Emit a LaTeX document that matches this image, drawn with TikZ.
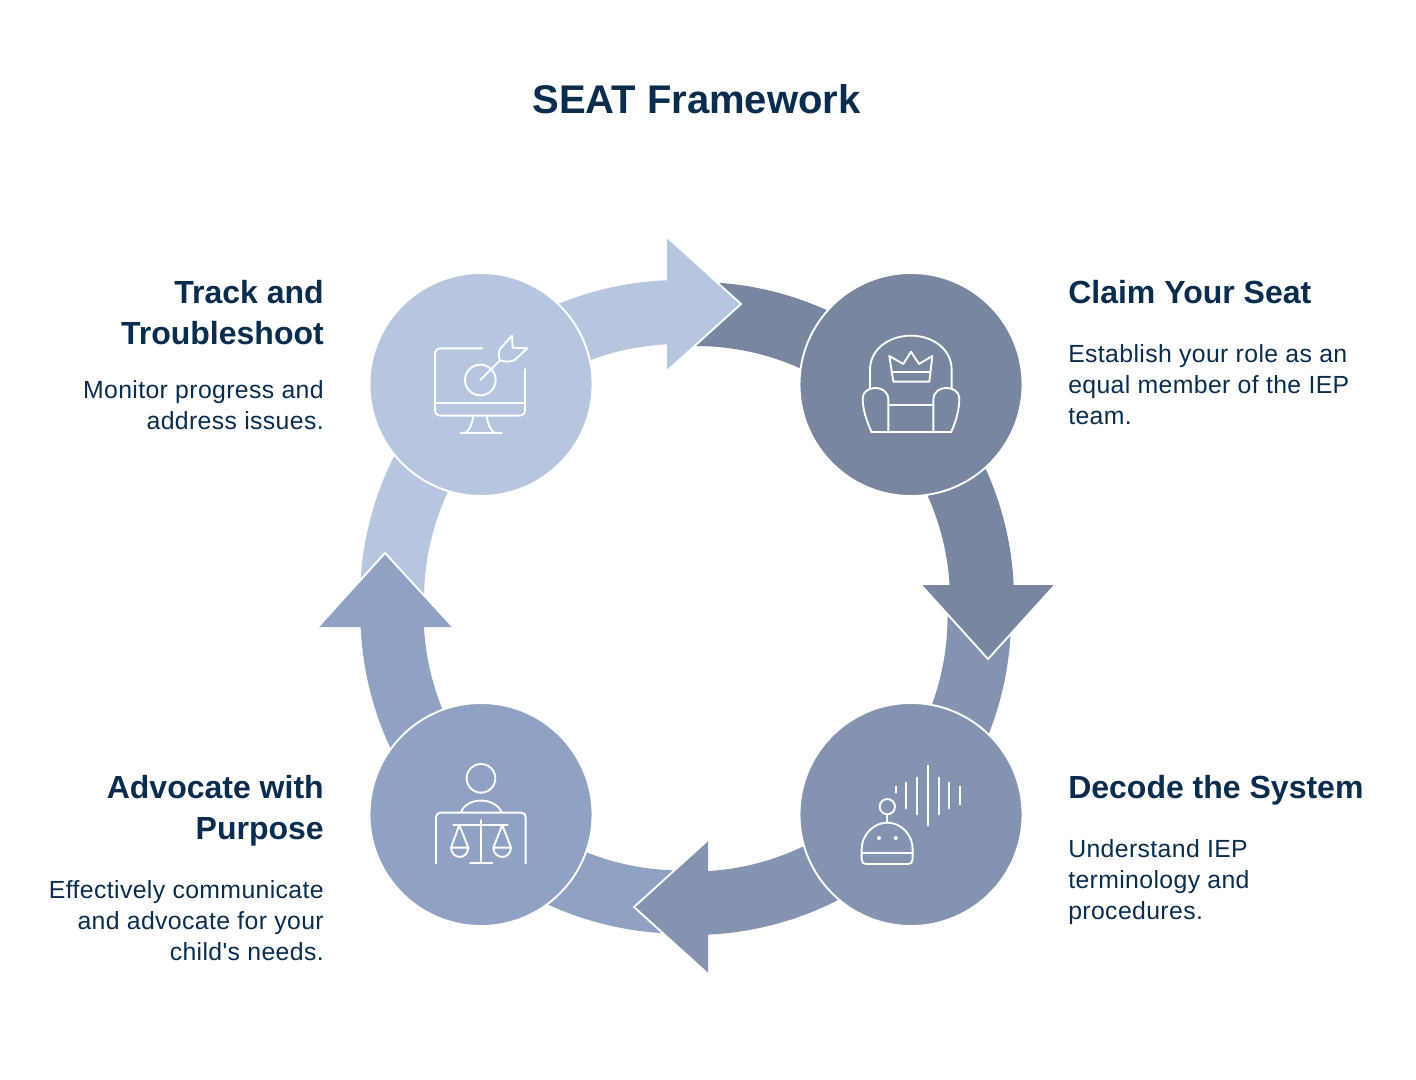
\documentclass[tikz,border=0pt]{standalone}
\usepackage{fontspec}
\setmainfont{Liberation Sans}
\newfontfamily\bodyfont[LetterSpace=1.5]{Liberation Sans}
\definecolor{ink}{HTML}{0A2C4D}
\definecolor{ctrack}{HTML}{B7C6DF}
\definecolor{cclaim}{HTML}{78869F}
\definecolor{cdecode}{HTML}{8494B0}
\definecolor{cadv}{HTML}{90A2C3}
\tikzset{
  hub/.style={circle,draw=white,line width=1.4pt,minimum size=167.25pt,inner sep=0pt,outer sep=0pt},
  rim/.style={draw=white,line width=1.4pt,line join=miter},
  icon/.style={draw=white,line width=1.4pt,line cap=round,line join=round},
  titletext/.style={font=\fontsize{30}{36}\selectfont\bfseries,text=ink,inner sep=0pt},
  headl/.style={font=\fontsize{24}{30.75}\selectfont\bfseries,text=ink,inner sep=0pt,align=left,anchor=north west},
  headr/.style={font=\fontsize{24}{30.75}\selectfont\bfseries,text=ink,inner sep=0pt,align=right,anchor=north east},
  bodyl/.style={font=\bodyfont\fontsize{18.6}{23}\selectfont,text=ink,inner sep=0pt,align=left,anchor=north west},
  bodyr/.style={font=\bodyfont\fontsize{18.6}{23}\selectfont,text=ink,inner sep=0pt,align=right,anchor=north east},
}
\newcommand{\band}[6]{% colour, cx, cy, Rout, Rin, start; end in \bandend
  \fill[#1] ({#2+#4*cos(#6)},{#3+#4*sin(#6)}) arc[start angle=#6,end angle=\bandend,radius=#4]
     -- ({#2+#5*cos(\bandend)},{#3+#5*sin(\bandend)}) arc[start angle=\bandend,end angle=#6,radius=#5] -- cycle;}
\begin{document}
\begin{tikzpicture}[x=0.75pt,y=-0.75pt]
\useasboundingbox (0,0) rectangle (1416,1080);
\fill[white] (0,0) rectangle (1416,1080);
\node[titletext] (title) at (696.5,99) {SEAT Framework};
% bands
\def\bandend{-1}\band{cclaim}{696}{600}{318}{254}{-92}
\def\bandend{-90}\band{ctrack}{680}{600}{320}{256}{-180}
\def\bandend{90}\band{cdecode}{693}{617}{318}{254.5}{-2}
\def\bandend{180}\band{cadv}{682}{612}{321.7}{258.5}{90}
% hubs
\node[hub,fill=ctrack] (track) at (481,384.5) {};
\node[hub,fill=cclaim] (claim) at (911,384.5) {};
\node[hub,fill=cdecode] (decode) at (911,814.5) {};
\node[hub,fill=cadv] (advocate) at (481,814.5) {};
% heads
\fill[ctrack] (667,237) -- (741,304) -- (667,371) -- cycle;
\draw[rim] (667,237) -- (741,304) -- (667,371);
\fill[cclaim] (921,585) -- (988,659) -- (1055,585) -- cycle;
\draw[rim] (921,585) -- (988,659) -- (1055,585);
\fill[cdecode] (708,840) -- (634,907) -- (708,974) -- cycle;
\draw[rim] (708,840) -- (634,907) -- (708,974);
\fill[cadv] (318,627) -- (385,553) -- (453,627) -- cycle;
\draw[rim] (318,627) -- (385,553) -- (453,627);
% throne
\begin{scope}[shift={(850,320)},scale=1/3]
\draw[icon] (60,205) -- (60,150) .. controls (60,85) and (120,47) .. (183,47) .. controls (245,47) and (305,85) .. (305,150) -- (305,205);
\draw[icon] (118,108) -- (160,132) -- (183,95) -- (207,132) -- (247,108) -- (238,185) -- (130,185) -- cycle;
\draw[icon] (125,157) -- (241,157);
\draw[icon] (65,337) .. controls (48,300) and (38,265) .. (38,235) .. controls (38,195) and (115,190) .. (115,240) -- (115,337);
\draw[icon] (303,337) .. controls (320,300) and (328,265) .. (328,235) .. controls (328,195) and (250,190) .. (250,240) -- (250,337);
\draw[icon] (65,337) -- (303,337);
\draw[icon] (116,255) -- (250,255);
\end{scope}
% target monitor
\begin{scope}[shift={(420,325)},scale=1/3]
\draw[icon] (187,70) -- (62,70) .. controls (52,70) and (45,77) .. (45,87) -- (45,255) .. controls (45,265) and (52,272) .. (62,272) -- (298,272) .. controls (308,272) and (315,265) .. (315,255) -- (315,132);
\draw[icon] (45,235) -- (315,235);
\draw[icon] (160,272) .. controls (157,295) and (150,315) .. (135,325);
\draw[icon] (200,272) .. controls (203,295) and (210,315) .. (225,325);
\draw[icon] (122,325) -- (245,325);
\draw[icon] (181,165) circle[radius=46];
\draw[icon] (181,165) -- (240,106);
\draw[icon] (240,106) .. controls (234,95) and (236,80) .. (240,72) -- (276,32) -- (278,68) -- (322,70) -- (284,105) .. controls (275,110) and (255,112) .. (240,106);
\end{scope}
% robot
\begin{scope}[shift={(850,755)},scale=1/3]
\draw[icon] (112,155) circle[radius=23];
\draw[icon] (112,178) -- (112,203);
\draw[icon] (35,283) .. controls (35,240) and (70,203) .. (112,203) .. controls (154,203) and (188,240) .. (188,283) -- (188,313) .. controls (188,322) and (182,327) .. (175,327) -- (48,327) .. controls (40,327) and (35,322) .. (35,313) -- cycle;
\draw[icon] (35,293) -- (188,293);
\fill[white] (87,249) circle[radius=6];
\fill[white] (137,249) circle[radius=6];
\draw[icon] (137,95) -- (137,113);
\draw[icon] (169,83) -- (169,160);
\draw[icon] (201,68) -- (201,178);
\draw[icon] (233,32) -- (233,212);
\draw[icon] (266,68) -- (266,178);
\draw[icon] (298,83) -- (298,160);
\draw[icon] (330,95) -- (330,148);
\end{scope}
% person with scales
\begin{scope}[shift={(425,755)},scale=1/3]
\draw[icon] (168,70) circle[radius=43];
\draw[icon] (108,172) .. controls (125,125) and (210,125) .. (230,172);
\draw[icon] (33,325) -- (33,187) .. controls (33,178) and (38,173) .. (47,173) -- (288,173) .. controls (297,173) and (302,178) .. (302,187) -- (302,325);
\draw[icon] (85,210) -- (248,210);
\draw[icon] (168,195) -- (168,325);
\draw[icon] (135,325) -- (202,325);
\draw[icon] (103,210) -- (78,278) -- (130,278) -- cycle;
\draw[icon] (78,278) .. controls (80,315) and (128,315) .. (130,278);
\draw[icon] (232,210) -- (205,278) -- (258,278) -- cycle;
\draw[icon] (205,278) .. controls (207,315) and (256,315) .. (258,278);
\end{scope}
% texts
\node[headl] (h1) at (1068,280.5) {Claim Your Seat};
\node[bodyl] (b1) at (1068,344.5) {Establish your role as an\\equal member of the IEP\\team.};
\node[headl] (h2) at (1068,775.5) {Decode the System};
\node[bodyl] (b2) at (1068,839.5) {Understand IEP\\terminology and\\procedures.};
\node[headr] (h3) at (324,775.5) {Advocate with\\Purpose};
\node[bodyr] (b3) at (324,880.5) {Effectively communicate\\and advocate for your\\child's needs.};
\node[headr] (h4) at (324,280.5) {Track and\\Troubleshoot};
\node[bodyr] (b4) at (324,380.5) {Monitor progress and\\address issues.};
\end{tikzpicture}
\end{document}
